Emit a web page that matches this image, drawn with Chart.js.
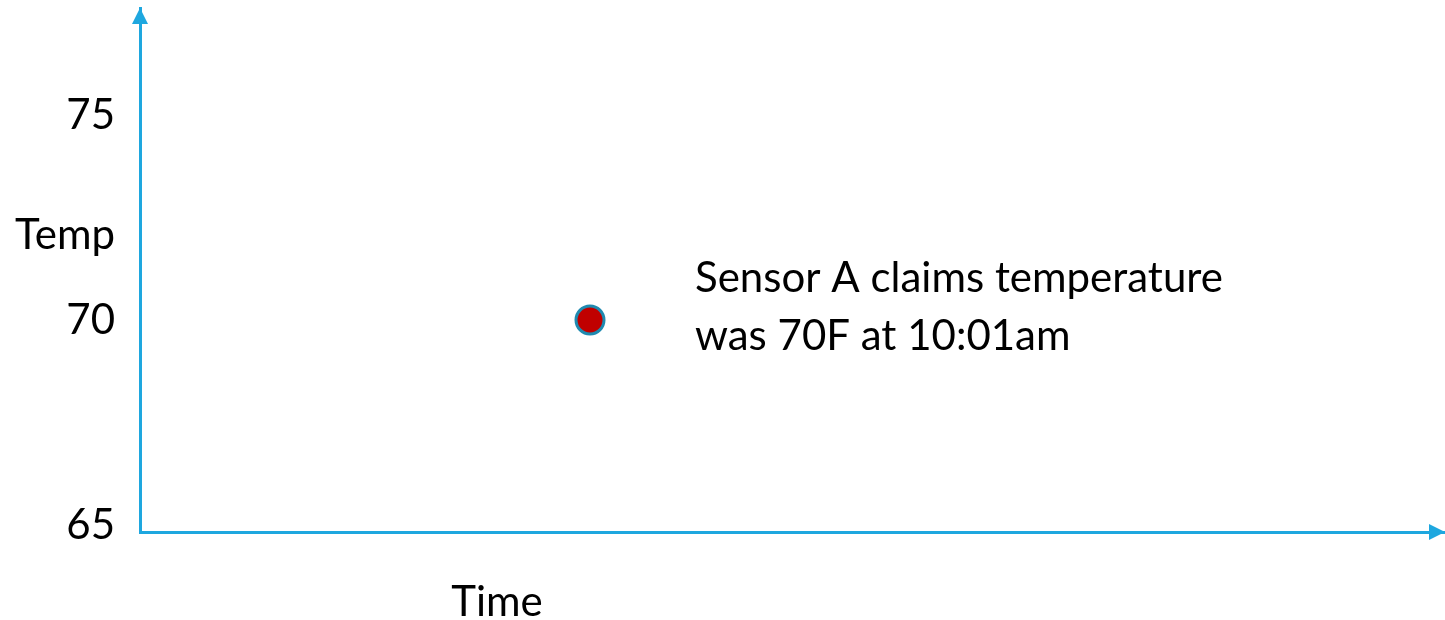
<!DOCTYPE html>
<html>
<head>
<meta charset="utf-8">
<script src="https://cdn.jsdelivr.net/npm/chart.js@4/dist/chart.umd.min.js"></script>
<style>
  html, body { margin: 0; padding: 0; background: #fff; }
  #wrap { width: 1445px; height: 620px; }
</style>
</head>
<body>
<div id="wrap"><canvas id="tempChart"></canvas></div>
<script>
// minutes since midnight, 601 = 10:01am
const readingTimes = [601];
const readingTemps = [70];
const tempTicks = [65, 70, 75];
const noteLines = ['Sensor A claims temperature', 'was 70F at 10:01am'];
const yTitle = 'Temp';
const xTitle = 'Time';

const axisBlue = '#1ea7df';
const fontFamily = 'Lato, "Open Sans", sans-serif';

// arrows on the axes, axis titles and the annotation next to the reading
const extras = {
    id: 'extras',
    afterDraw(chart) {
        const c = chart.ctx;
        const area = chart.chartArea;
        const x = chart.scales.x, y = chart.scales.y;
        c.save();
        c.fillStyle = axisBlue;
        // up arrow
        c.beginPath();
        c.moveTo(area.left, area.top);
        c.lineTo(area.left - 8, area.top + 16);
        c.lineTo(area.left + 8, area.top + 16);
        c.closePath();
        c.fill();
        // right arrow
        c.beginPath();
        c.moveTo(area.right, area.bottom);
        c.lineTo(area.right - 16, area.bottom - 8);
        c.lineTo(area.right - 16, area.bottom + 8);
        c.closePath();
        c.fill();

        c.fillStyle = '#000';
        c.font = '42px ' + fontFamily;
        c.textBaseline = 'middle';
        c.textAlign = 'right';
        c.fillText(yTitle, area.left - 25, 235);
        c.textAlign = 'center';
        c.fillText(xTitle, 497, 602);

        const px = x.getPixelForValue(readingTimes[0]);
        const py = y.getPixelForValue(readingTemps[0]);
        c.textAlign = 'left';
        c.fillText(noteLines[0], px + 105, py - 42);
        c.fillText(noteLines[1], px + 105, py + 16);
        c.restore();
    }
};

new Chart(document.getElementById('tempChart'), {
    type: 'scatter',
    data: {
        datasets: [{
            label: 'Sensor A',
            data: readingTimes.map((t, i) => ({ x: t, y: readingTemps[i] })),
            backgroundColor: '#c00000',
            borderColor: '#1f8ab0',
            borderWidth: 3,
            pointRadius: 14,
            pointHoverRadius: 14
        }]
    },
    options: {
        responsive: true,
        maintainAspectRatio: false,
        animation: false,
        layout: { autoPadding: false, padding: { top: 8, right: 0, left: 0, bottom: 0 } },
        plugins: {
            legend: { display: false },
            tooltip: { enabled: false }
        },
        scales: {
            x: {
                type: 'linear',
                min: 591,
                max: 620,
                grid: { display: false, drawTicks: false },
                border: { display: true, color: axisBlue, width: 3 },
                ticks: { display: false },
                afterFit(scale) {
                    scale.height = 88;
                    scale.paddingLeft = 0;
                    scale.paddingRight = 0;
                }
            },
            y: {
                type: 'linear',
                min: 70 - 212 / 41,
                max: 70 + 312 / 41,
                afterBuildTicks(scale) {
                    scale.ticks = tempTicks.map(v => ({ value: v }));
                },
                grid: { display: false, drawTicks: false },
                border: { display: true, color: axisBlue, width: 3 },
                ticks: {
                    color: '#000',
                    padding: 25,
                    font: { family: fontFamily, size: 42 }
                },
                afterFit(scale) {
                    scale.width = 140;
                    scale.paddingTop = 0;
                    scale.paddingBottom = 0;
                }
            }
        }
    },
    plugins: [extras]
});
</script>
</body>
</html>
